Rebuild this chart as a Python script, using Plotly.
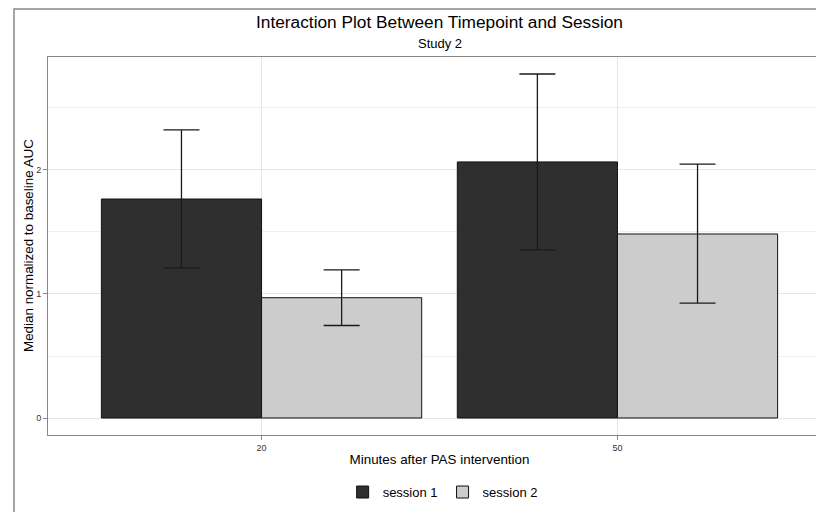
import plotly.graph_objects as go

categories = ["20", "50"]
session1 = [1.766, 2.065]
session1_upper = [2.323, 2.774]
session1_lower = [1.210, 1.355]
session2 = [0.970, 1.484]
session2_upper = [1.194, 2.048]
session2_lower = [0.746, 0.927]
ytick_vals = [0, 1, 2]

FONT = "Liberation Sans, Arial, sans-serif"

def err(vals, up, lo):
    return dict(type="data", symmetric=False,
                array=[u - v for u, v in zip(up, vals)],
                arrayminus=[v - l for v, l in zip(vals, lo)],
                color="#1a1a1a", thickness=1.3, width=18)

fig = go.Figure()
fig.add_trace(go.Bar(x=categories, y=session1, name="session 1",
                     marker=dict(color="#2f2f2f", line=dict(color="#111111", width=1)),
                     error_y=err(session1, session1_upper, session1_lower)))
fig.add_trace(go.Bar(x=categories, y=session2, name="session 2",
                     marker=dict(color="#cccccc", line=dict(color="#111111", width=1)),
                     error_y=err(session2, session2_upper, session2_lower)))

# the page body adds an 8px offset, so figure coords = page coords - 8
W, H = 860, 530
PL, PR, PT, PB = 40, 823, 49, 427
PW, PH = PR - PL, PB - PT
fig.update_layout(
    width=W, height=H,
    margin=dict(l=PL, r=W - PR, t=PT, b=H - PB),
    paper_bgcolor="white", plot_bgcolor="white",
    font=dict(family=FONT, color="#000000"),
    barmode="group", bargap=0.1, bargroupgap=0,
    xaxis=dict(type="category", range=[-0.6, 1.6],
               showgrid=True, gridcolor="#e6e6e6", gridwidth=1,
               showline=True, linecolor="#888888", linewidth=1, mirror=True,
               ticks="outside", ticklen=4, tickcolor="#888888",
               tickfont=dict(size=9, color="#333333"),
               title=dict(text="Minutes after PAS intervention", font=dict(size=13.4), standoff=2),
               zeroline=False),
    yaxis=dict(range=[-0.137, 2.911], tickvals=ytick_vals,
               showgrid=True, gridcolor="#e6e6e6", gridwidth=1,
               minor=dict(dtick=0.5, tick0=0, showgrid=True, gridcolor="#efefef", ticklen=0),
               showline=True, linecolor="#888888", linewidth=1, mirror=True,
               ticks="outside", ticklen=4, tickcolor="#888888",
               tickfont=dict(size=9, color="#333333"),
               zeroline=False),
    legend=dict(orientation="h", x=0.504, xanchor="center", y=-0.151, yanchor="middle",
                font=dict(size=13), itemwidth=30),
    annotations=[
        dict(text="Interaction Plot Between Timepoint and Session", xref="paper", yref="paper",
             x=0.5, y=(PB - 14) / PH, xanchor="center", yanchor="middle", showarrow=False,
             font=dict(size=17.3, family=FONT, color="#000000")),
        dict(text="Study 2", xref="paper", yref="paper",
             x=0.5, y=(PB - 36) / PH, xanchor="center", yanchor="middle", showarrow=False,
             font=dict(size=13, family=FONT, color="#000000")),
        dict(text="Median normalized to baseline AUC", xref="paper", yref="paper",
             x=(20 - PL) / PW, y=0.5, xanchor="center", yanchor="middle", showarrow=False,
             textangle=-90, font=dict(size=13.4, family=FONT, color="#000000")),
    ],
    shapes=[dict(type="rect", xref="paper", yref="paper",
                 x0=(6 - PL) / PW, x1=(W - 6 - PL) / PW,
                 y0=-(H - 6 - PB) / PH, y1=(PB - 1) / PH,
                 line=dict(color="#888888", width=1.5), fillcolor="rgba(0,0,0,0)", layer="below")],
)

fig.write_html("out.html")
